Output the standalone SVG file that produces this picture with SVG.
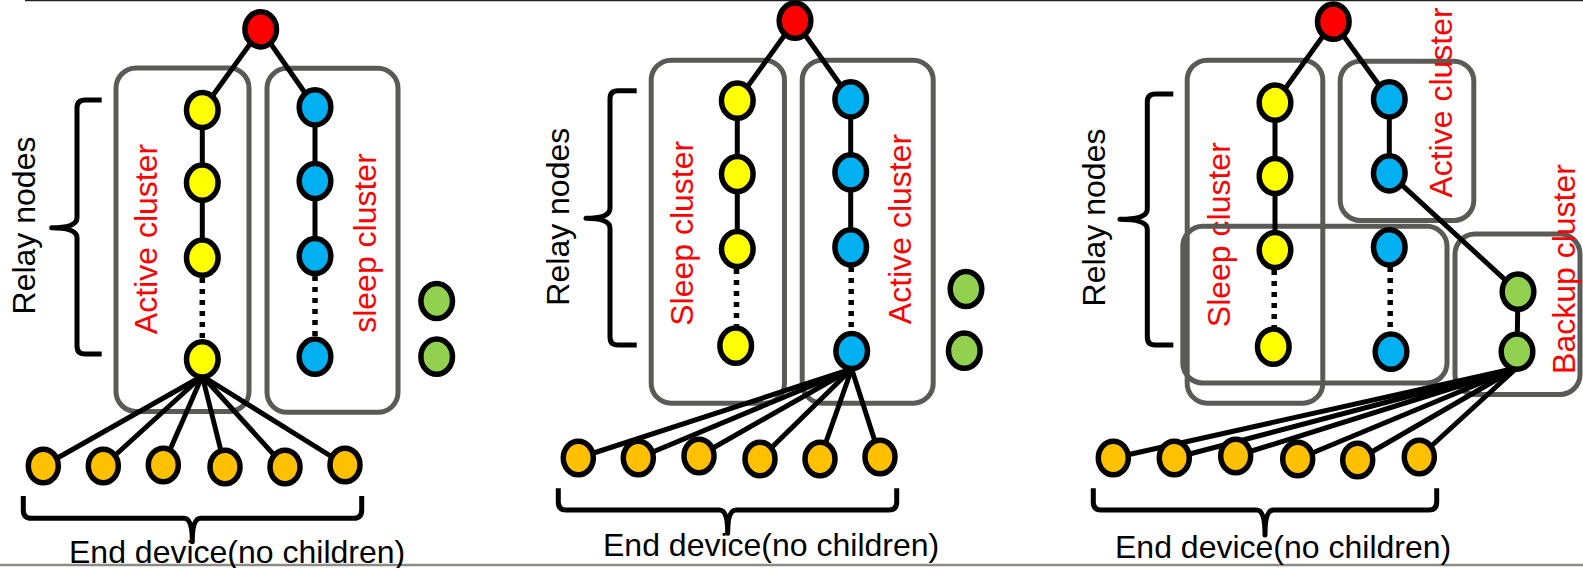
<svg xmlns="http://www.w3.org/2000/svg" xmlns:xlink="http://www.w3.org/1999/xlink" width="1583" height="568" viewBox="0 0 1583 568">
  <style>
    .c { stroke: #000; stroke-width: 5; fill: none; stroke-linecap: butt; }
    .dot { stroke: #000; stroke-width: 5.5; fill: none; stroke-dasharray: 5 6; }
    .brace { stroke: #000; stroke-width: 5; fill: none; stroke-linejoin: round; }
    .cluster { stroke: #5a5a56; stroke-width: 5; fill: none; }
    .n { stroke: #000; stroke-width: 5.5; }
    .red { fill: #ff0000; }
    .yel { fill: #ffff00; }
    .blu { fill: #00b0f0; }
    .grn { fill: #92d050; }
    .org { fill: #ffc000; }
    .lbl { font-family: "Liberation Sans", Arial, sans-serif; font-size: 32px; fill: #000; }
    .rlbl { font-family: "Liberation Sans", Arial, sans-serif; font-size: 32px; fill: #ff0000; text-anchor: middle; }
    .vlbl { text-anchor: middle; }
  </style>
  <defs>
    <ellipse id="rn" cx="0" cy="0" rx="15.8" ry="17.6"/>
    <ellipse id="en" cx="0" cy="0" rx="15" ry="16.8"/>
  </defs>

  <!-- frame rules -->
  <line x1="25" y1="0.5" x2="1583" y2="0.5" stroke="#222" stroke-width="1.5"/>
  <line x1="0" y1="565" x2="1583" y2="565" stroke="#8c8c84" stroke-width="2.5"/>

  <!-- cluster outlines -->
  <g id="clusters">
    <rect id="p1-active" class="cluster" x="116" y="68" width="133" height="343.5" rx="20"/>
    <rect id="p1-sleep" class="cluster" x="267" y="68.3" width="131" height="344" rx="20"/>
    <rect id="p2-sleep" class="cluster" x="651.2" y="60.2" width="133.3" height="343" rx="20"/>
    <rect id="p2-active" class="cluster" x="802.2" y="60.2" width="131" height="343" rx="20"/>
    <rect id="p3-sleep-a" class="cluster" x="1187.2" y="60.2" width="135.6" height="343" rx="20"/>
    <rect id="p3-active" class="cluster" x="1340.2" y="61.2" width="133.6" height="159.3" rx="20"/>
    <rect id="p3-backup" class="cluster" x="1455" y="234" width="125" height="160.5" rx="20"/>
  </g>

  <!-- label drawn beneath the wide sleep box -->
  <text class="rlbl" transform="translate(1230,234.7) rotate(-90)">Sleep cluster</text>
  <rect id="p3-sleep-b" class="cluster" x="1182.8" y="226.3" width="264.2" height="156.7" rx="20"/>

  <!-- connectors -->
  <g id="connectors">
    <!-- panel 1 -->
    <line class="c" x1="260.7" y1="29.3" x2="202.3" y2="110"/>
    <line class="c" x1="260.7" y1="29.3" x2="315" y2="107.3"/>
    <line class="c" x1="202.3" y1="110" x2="202.3" y2="257.7"/>
    <line class="c" x1="315" y1="107.3" x2="315" y2="256"/>
    <line class="dot" x1="202.3" y1="278" x2="202.3" y2="340"/>
    <line class="dot" x1="315" y1="276" x2="315" y2="337"/>
    <line class="c" x1="202.3" y1="376" x2="43.3" y2="466"/>
    <line class="c" x1="202.3" y1="376" x2="103.3" y2="466"/>
    <line class="c" x1="202.3" y1="376" x2="163.3" y2="465"/>
    <line class="c" x1="202.3" y1="376" x2="225" y2="467"/>
    <line class="c" x1="202.3" y1="376" x2="285" y2="467"/>
    <line class="c" x1="202.3" y1="376" x2="345" y2="465"/>
    <!-- panel 2 -->
    <line class="c" x1="795" y1="20.7" x2="737.3" y2="100.7"/>
    <line class="c" x1="795" y1="20.7" x2="850.7" y2="99.3"/>
    <line class="c" x1="737.3" y1="100.7" x2="737.3" y2="249"/>
    <line class="c" x1="850.7" y1="99.3" x2="850.7" y2="247.3"/>
    <line class="dot" x1="736.5" y1="269" x2="736.5" y2="327"/>
    <line class="dot" x1="851.2" y1="267" x2="851.2" y2="332"/>
    <line class="c" x1="851.7" y1="369" x2="578.3" y2="458"/>
    <line class="c" x1="851.7" y1="369" x2="638.3" y2="458"/>
    <line class="c" x1="851.7" y1="369" x2="699" y2="456"/>
    <line class="c" x1="851.7" y1="369" x2="760" y2="459"/>
    <line class="c" x1="851.7" y1="369" x2="820" y2="459"/>
    <line class="c" x1="851.7" y1="369" x2="880" y2="457"/>
    <!-- panel 3 -->
    <line class="c" x1="1333.3" y1="21.7" x2="1275" y2="102.7"/>
    <line class="c" x1="1333.3" y1="21.7" x2="1389.3" y2="99.3"/>
    <line class="c" x1="1275" y1="102.7" x2="1275" y2="250"/>
    <line class="c" x1="1389.3" y1="99.3" x2="1389.3" y2="173.3"/>
    <line class="c" x1="1389.3" y1="173.3" x2="1518" y2="291.7"/>
    <line class="c" x1="1518" y1="291.7" x2="1517" y2="351.7"/>
    <line class="dot" x1="1274.2" y1="270" x2="1274.2" y2="328"/>
    <line class="dot" x1="1390.2" y1="267" x2="1390.2" y2="333"/>
    <line class="c" x1="1516.7" y1="368" x2="1113.3" y2="458"/>
    <line class="c" x1="1516.7" y1="368" x2="1174.3" y2="458"/>
    <line class="c" x1="1516.7" y1="368" x2="1235.7" y2="456"/>
    <line class="c" x1="1516.7" y1="368" x2="1297.7" y2="459"/>
    <line class="c" x1="1516.7" y1="368" x2="1357.7" y2="460"/>
    <line class="c" x1="1516.7" y1="368" x2="1419.3" y2="457"/>
  </g>

  <!-- panel 1 nodes -->
  <g id="p1-root"><use href="#rn" class="n red" x="260.7" y="29.3"/></g>
  <g id="p1-y1"><use href="#rn" class="n yel" x="202.3" y="110"/></g>
  <g id="p1-y2"><use href="#rn" class="n yel" x="202.3" y="182.7"/></g>
  <g id="p1-y3"><use href="#rn" class="n yel" x="202.3" y="257.7"/></g>
  <g id="p1-y4"><use href="#rn" class="n yel" x="202.3" y="359.3"/></g>
  <g id="p1-b1"><use href="#rn" class="n blu" x="315" y="107.3"/></g>
  <g id="p1-b2"><use href="#rn" class="n blu" x="315" y="181"/></g>
  <g id="p1-b3"><use href="#rn" class="n blu" x="315" y="256"/></g>
  <g id="p1-b4"><use href="#rn" class="n blu" x="315" y="356.7"/></g>
  <g id="p1-g1"><use href="#rn" class="n grn" x="436.7" y="301"/></g>
  <g id="p1-g2"><use href="#rn" class="n grn" x="436.7" y="356.7"/></g>
  <g id="p1-e1"><use href="#en" class="n org" x="43.3" y="466"/></g>
  <g id="p1-e2"><use href="#en" class="n org" x="103.3" y="466"/></g>
  <g id="p1-e3"><use href="#en" class="n org" x="163.3" y="465"/></g>
  <g id="p1-e4"><use href="#en" class="n org" x="225" y="467"/></g>
  <g id="p1-e5"><use href="#en" class="n org" x="285" y="467"/></g>
  <g id="p1-e6"><use href="#en" class="n org" x="345" y="465"/></g>

  <!-- panel 2 nodes -->
  <g id="p2-root"><use href="#rn" class="n red" x="795" y="20.7"/></g>
  <g id="p2-y1"><use href="#rn" class="n yel" x="737.3" y="100.7"/></g>
  <g id="p2-y2"><use href="#rn" class="n yel" x="737.3" y="174"/></g>
  <g id="p2-y3"><use href="#rn" class="n yel" x="737.3" y="249"/></g>
  <g id="p2-y4"><use href="#rn" class="n yel" x="735.7" y="345.7"/></g>
  <g id="p2-b1"><use href="#rn" class="n blu" x="850.7" y="99.3"/></g>
  <g id="p2-b2"><use href="#rn" class="n blu" x="850.7" y="172.3"/></g>
  <g id="p2-b3"><use href="#rn" class="n blu" x="850.7" y="247.3"/></g>
  <g id="p2-b4"><use href="#rn" class="n blu" x="851.7" y="351"/></g>
  <g id="p2-g1"><use href="#rn" class="n grn" x="966" y="289"/></g>
  <g id="p2-g2"><use href="#rn" class="n grn" x="964.3" y="350.7"/></g>
  <g id="p2-e1"><use href="#en" class="n org" x="578.3" y="458"/></g>
  <g id="p2-e2"><use href="#en" class="n org" x="638.3" y="458"/></g>
  <g id="p2-e3"><use href="#en" class="n org" x="699" y="456"/></g>
  <g id="p2-e4"><use href="#en" class="n org" x="760" y="459"/></g>
  <g id="p2-e5"><use href="#en" class="n org" x="820" y="459"/></g>
  <g id="p2-e6"><use href="#en" class="n org" x="880" y="457"/></g>

  <!-- panel 3 nodes -->
  <g id="p3-root"><use href="#rn" class="n red" x="1333.3" y="21.7"/></g>
  <g id="p3-y1"><use href="#rn" class="n yel" x="1275" y="102.7"/></g>
  <g id="p3-y2"><use href="#rn" class="n yel" x="1275" y="176"/></g>
  <g id="p3-y3"><use href="#rn" class="n yel" x="1275" y="250"/></g>
  <g id="p3-y4"><use href="#rn" class="n yel" x="1273.3" y="346.7"/></g>
  <g id="p3-b1"><use href="#rn" class="n blu" x="1389.3" y="99.3"/></g>
  <g id="p3-b2"><use href="#rn" class="n blu" x="1389.3" y="173.3"/></g>
  <g id="p3-b3"><use href="#rn" class="n blu" x="1389.3" y="247.3"/></g>
  <g id="p3-b4"><use href="#rn" class="n blu" x="1391" y="351.7"/></g>
  <g id="p3-g1"><use href="#rn" class="n grn" x="1518" y="291.7"/></g>
  <g id="p3-g2"><use href="#rn" class="n grn" x="1517" y="351.7"/></g>
  <g id="p3-e1"><use href="#en" class="n org" x="1113.3" y="458"/></g>
  <g id="p3-e2"><use href="#en" class="n org" x="1174.3" y="458"/></g>
  <g id="p3-e3"><use href="#en" class="n org" x="1235.7" y="456"/></g>
  <g id="p3-e4"><use href="#en" class="n org" x="1297.7" y="459"/></g>
  <g id="p3-e5"><use href="#en" class="n org" x="1357.7" y="460"/></g>
  <g id="p3-e6"><use href="#en" class="n org" x="1419.3" y="457"/></g>

  <!-- braces -->
  <g id="braces">
    <path class="brace" d="M101.7,100 H85 Q77,100 77,108 V217.7 Q77,227.7 51.7,227.7 Q77,227.7 77,237.7 V346 Q77,354 85,354 H101.7"/>
    <path class="brace" d="M636.7,90.7 H618 Q610,90.7 610,98.7 V208.3 Q610,218.3 586,218.3 Q610,218.3 610,228.3 V337 Q610,345 618,345 H636.7"/>
    <path class="brace" d="M1173.3,94 H1155.3 Q1147.3,94 1147.3,102 V209.3 Q1147.3,219.3 1120,219.3 Q1147.3,219.3 1147.3,229.3 V337 Q1147.3,345 1155.3,345 H1173.3"/>
    <path class="brace" d="M23.3,496 V510 Q23.3,518.3 31.3,518.3 H184 Q192.3,518.3 192.3,541.7 Q192.3,518.3 200.6,518.3 H353.7 Q361.7,518.3 361.7,510 V496"/>
    <path class="brace" d="M558.3,488.3 V502 Q558.3,510 566.3,510 H719.5 Q727.7,510 727.7,533.3 Q727.7,510 736,510 H888.7 Q896.7,510 896.7,502 V488.3"/>
    <path class="brace" d="M1093.3,488.3 V502 Q1093.3,510 1101.3,510 H1256.7 Q1265,510 1265,535 Q1265,510 1273.3,510 H1428.7 Q1436.7,510 1436.7,502 V488.3"/>
  </g>

  <!-- labels -->
  <g id="labels">
    <text class="lbl vlbl" transform="translate(35,225.5) rotate(-90)">Relay nodes</text>
    <text class="lbl vlbl" transform="translate(569.3,216.7) rotate(-90)">Relay nodes</text>
    <text class="lbl vlbl" transform="translate(1105,217.5) rotate(-90)">Relay nodes</text>
    <text class="rlbl" transform="translate(157,239) rotate(-90)">Active cluster</text>
    <text class="rlbl" transform="translate(376,243) rotate(-90)">sleep cluster</text>
    <text class="rlbl" transform="translate(693.3,233.3) rotate(-90)">Sleep cluster</text>
    <text class="rlbl" transform="translate(910.7,229) rotate(-90)">Active cluster</text>
    <text class="rlbl" transform="translate(1451.7,102.5) rotate(-90)">Active cluster</text>
    <text class="rlbl" transform="translate(1575,269) rotate(-90)">Backup cluster</text>
    <text class="lbl" x="69" y="562.7">End device(no children)</text>
    <text class="lbl" x="603" y="556">End device(no children)</text>
    <text class="lbl" x="1115" y="558.3">End device(no children)</text>
  </g>
</svg>
